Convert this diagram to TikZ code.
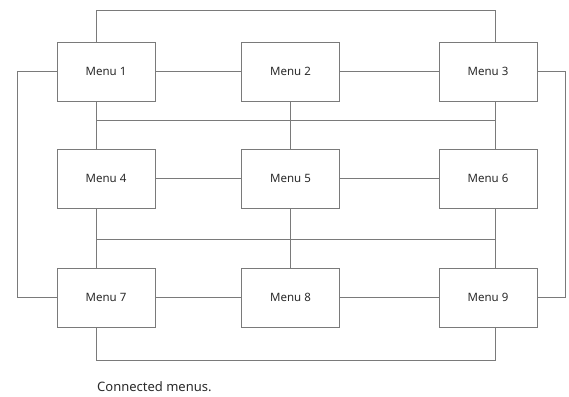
\documentclass[tikz,border=0pt]{standalone}
\usepackage{fontspec}
\setmainfont{Noto Sans}
\usetikzlibrary{positioning,calc}
\definecolor{linegray}{HTML}{7A7A7A}
\definecolor{textgray}{HTML}{2A2A2A}
\begin{document}
\begin{tikzpicture}[x=1pt,y=-1pt,
  menubox/.style={draw=linegray,line width=0.9pt,minimum width=98pt,minimum height=59pt,inner sep=0pt,
    font=\fontsize{11.5}{13}\selectfont,text=textgray},
  conn/.style={draw=linegray,line width=0.9pt}]
\useasboundingbox (0,0) rectangle (569,396);
\node[menubox] (m1) at (106,71.5) {Menu 1};
\node[menubox] (m2) at (290.5,71.5) {Menu 2};
\node[menubox] (m3) at (488,71.5) {Menu 3};
\node[menubox] (m4) at (106,178.5) {Menu 4};
\node[menubox] (m5) at (290.5,178.5) {Menu 5};
\node[menubox] (m6) at (488,178.5) {Menu 6};
\node[menubox] (m7) at (106,297.5) {Menu 7};
\node[menubox] (m8) at (290.5,297.5) {Menu 8};
\node[menubox] (m9) at (488,297.5) {Menu 9};
% column attachment points
\coordinate (m1s) at ([xshift=-10pt]m1.south);
\coordinate (m1n) at ([xshift=-10pt]m1.north);
\coordinate (m4n) at ([xshift=-10pt]m4.north);
\coordinate (m4s) at ([xshift=-10pt]m4.south);
\coordinate (m7n) at ([xshift=-10pt]m7.north);
\coordinate (m7s) at ([xshift=-10pt]m7.south);
\coordinate (m3n) at ([xshift=7pt]m3.north);
\coordinate (m3s) at ([xshift=7pt]m3.south);
\coordinate (m6n) at ([xshift=7pt]m6.north);
\coordinate (m6s) at ([xshift=7pt]m6.south);
\coordinate (m9n) at ([xshift=7pt]m9.north);
\coordinate (m9s) at ([xshift=7pt]m9.south);
% horizontal neighbours
\draw[conn] (m1) -- (m2); \draw[conn] (m2) -- (m3);
\draw[conn] (m4) -- (m5); \draw[conn] (m5) -- (m6);
\draw[conn] (m7) -- (m8); \draw[conn] (m8) -- (m9);
% top loop
\draw[conn] (m1n) -- ++(0,-31) -| (m3n);
% bottom loop
\draw[conn] (m7s) -- ++(0,32.5) -| (m9s);
% left loop
\draw[conn] (m1.west) -- ++(-39,0) |- (m7.west);
% right loop
\draw[conn] (m3.east) -- ++(28,0) |- (m9.east);
% bus between rows 1 and 2
\draw[conn] (m1s) -- (m4n);
\draw[conn] (m2.south) -- (m5.north);
\draw[conn] (m3s) -- (m6n);
\coordinate (b1l) at ($(m1s)!0.4!(m4n)$);
\draw[conn] (b1l) -- (b1l -| m3s);
% bus between rows 2 and 3
\draw[conn] (m4s) -- (m7n);
\draw[conn] (m5.south) -- (m8.north);
\draw[conn] (m6s) -- (m9n);
\coordinate (b2l) at ($(m4s)!0.52!(m7n)$);
\draw[conn] (b2l) -- (b2l -| m6s);
% caption
\node[anchor=west,font=\fontsize{13}{15}\selectfont,text=textgray,inner sep=0pt] (cap) at (97,386.5) {Connected menus.};
\end{tikzpicture}
\end{document}
